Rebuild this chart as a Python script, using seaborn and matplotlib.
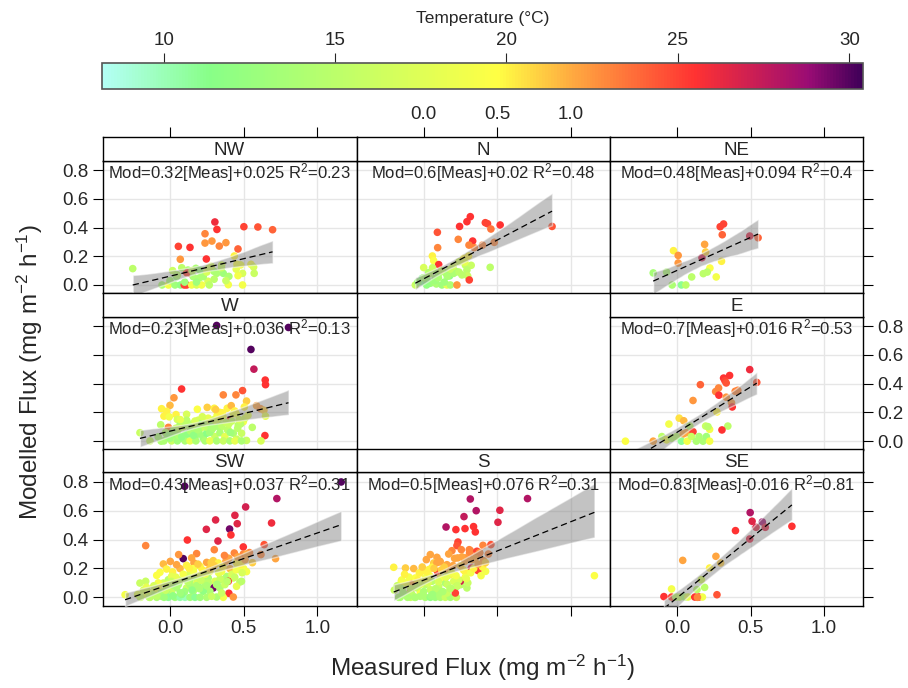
import matplotlib
matplotlib.use("Agg")
import matplotlib.pyplot as plt
import matplotlib.colors as mcolors
import seaborn as sns
import pandas as pd

# ---- data ----
sectors = ["NW", "N", "NE", "W", "E", "SW", "S", "SE"]

NW_meas = [-0.253, 0.018, 0.305, 0.319, 0.502, 0.597, 0.697, 0.238, 0.285, 0.238, 0.335, 0.380, 0.057, 0.136,
           0.462, 0.070, 0.247, 0.437, 0.455, 0.550, 0.568, 0.572, 0.493, 0.462, 0.396, 0.493, 0.258, 0.122,
           0.176, 0.204, 0.262, 0.299, 0.362, 0.351, 0.113, 0.136, -0.054, -0.011, 0.034, 0.072, 0.097, 0.113,
           0.147, 0.181, 0.215, 0.267, 0.045, 0.158, 0.226, 0.317,
           0.00, 0.05, 0.10, 0.15, 0.20, 0.25, 0.30, 0.35, 0.40, 0.45, 0.08, 0.18, 0.28, 0.38, 0.48]
NW_mod = [0.114, 0.100, 0.439, 0.387, 0.406, 0.404, 0.385, 0.357, 0.306, 0.292, 0.271, 0.295, 0.269, 0.262,
          0.251, 0.179, 0.181, 0.202, 0.144, 0.144, 0.125, 0.081, 0.081, 0.065, 0.002, 0.0, 0.026, 0.104,
          0.116, 0.104, 0.116, 0.095, 0.081, 0.139, 0.086, 0.081, 0.0, 0.0, 0.0, 0.0, 0.0, 0.0,
          0.0, 0.0, 0.0, 0.0, 0.058, 0.058, 0.058, 0.081,
          0.03, 0.07, 0.02, 0.10, 0.05, 0.09, 0.04, 0.12, 0.06, 0.11, 0.12, 0.02, 0.13, 0.03, 0.14]
NW_temp = [15, 16, 26, 25.5, 25, 24.5, 24, 23, 22.5, 22.5, 23, 22.5, 25, 25.5,
           24, 22.5, 25.5, 20, 19.5, 19.5, 17, 16, 17, 19, 19, 19, 17, 14,
           14, 13, 16, 14, 13, 17, 25, 25, 14, 19, 13, 12, 25, 25,
           19, 17, 19, 15, 13, 14, 14, 14,
           14, 15, 13, 16, 14, 17, 15, 16, 14, 18, 15, 13, 17, 16, 19]

N_meas = [0.317, 0.294, 0.244, 0.419, 0.434, 0.520, 0.457, 0.873, 0.093, 0.235, 0.333, 0.308, 0.344, 0.400,
          0.480, 0.095, 0.059, 0.068, 0.305, 0.271, 0.102, 0.0, 0.240, 0.283, 0.323, 0.294, 0.452, 0.034,
          0.063, 0.102, 0.147, 0.176, 0.204, 0.222, 0.299, 0.310, -0.011, -0.011, -0.057, 0.045, 0.086, 0.124,
          0.158, 0.181, 0.226, 0.079, 0.023,
          -0.04, 0.00, 0.04, 0.08, 0.12, 0.16, 0.20, 0.24, 0.28, 0.02, 0.10, 0.18, 0.26, 0.06, 0.14]
N_mod = [0.476, 0.441, 0.408, 0.434, 0.427, 0.418, 0.390, 0.408, 0.367, 0.318, 0.306, 0.278, 0.260, 0.278,
         0.297, 0.260, 0.202, 0.169, 0.202, 0.186, 0.142, 0.121, 0.162, 0.139, 0.137, 0.104, 0.123, 0.086,
         0.104, 0.081, 0.086, 0.063, 0.081, 0.093, 0.063, 0.035, 0.046, 0.023, 0.0, 0.012, 0.007, 0.0,
         0.0, 0.0, 0.0, 0.046, 0.035,
         0.02, 0.05, 0.08, 0.03, 0.10, 0.06, 0.13, 0.09, 0.16, 0.00, 0.05, 0.11, 0.07, 0.12, 0.02]
N_temp = [25.5, 25.5, 25.5, 25, 25, 25.5, 23.5, 24.5, 24.5, 23, 25.5, 23, 23, 23,
          23, 23, 20, 19.5, 20, 20, 25.5, 17, 17, 16, 16, 15, 15, 14,
          14, 14, 14, 12, 14, 14, 16, 25, 11, 10.5, 16, 13, 14, 13,
          18, 14, 22.5, 14, 13,
          13, 14, 15, 13, 16, 14, 17, 15, 18, 12, 14, 16, 15, 16, 13]

NE_meas = [-0.163, -0.072, -0.034, 0.029, 0.059, -0.025, 0.007, 0.007, 0.099, 0.169, 0.187, 0.194, 0.223,
           0.178, 0.205, 0.266, 0.302, 0.293, 0.316, 0.307, 0.494, 0.551]
NE_mod = [0.084, 0.090, 0.0, 0.0, 0.0, 0.239, 0.206, 0.153, 0.056, 0.190, 0.283, 0.230, 0.118,
          0.079, 0.090, 0.056, 0.165, 0.406, 0.425, 0.350, 0.341, 0.329]
NE_temp = [13.5, 14, 14, 11, 15, 20, 22.5, 22.5, 15, 27, 22, 21, 19.5,
           15, 15, 19, 20, 25, 25, 24, 26.5, 24]

W_meas = [0.317, 0.805, 0.550, 0.570, 0.647, 0.649, 0.079, 0.493, 0.448, 0.362, 0.027, 0.520, 0.0, -0.057,
          -0.023, -0.041, 0.041, -0.005, 0.113, 0.186, 0.253, 0.301, 0.389, 0.416, 0.505, 0.588, 0.615, 0.638,
          0.649, 0.407, 0.357, 0.335, 0.192, 0.113, 0.050, -0.063, -0.204, -0.136, -0.011, 0.068, 0.136, 0.204,
          0.271, 0.464, 0.559, 0.645, 0.618, -0.023, 0.023, 0.045, 0.079, 0.102, 0.136, 0.170, 0.192, 0.226,
          0.249, 0.283, 0.305, 0.339, 0.373, 0.396, 0.430, 0.452, 0.486, 0.520, -0.041, 0.011, 0.050, 0.102,
          0.136, 0.176, 0.238, 0.271, 0.317, 0.362, 0.407, 0.441, 0.486, 0.063, 0.158, 0.249, 0.351, 0.498,
          0.317,
          -0.08, -0.03, 0.00, 0.03, 0.06, 0.09, 0.12, 0.15, 0.18, 0.21, 0.24, 0.27, 0.30, 0.33, 0.36, 0.39,
          0.42, 0.45, 0.48, 0.51, -0.06, -0.01, 0.04, 0.08, 0.11, 0.14, 0.17, 0.20, 0.23, 0.26, 0.29, 0.32,
          0.35, 0.38, 0.41, 0.44, 0.47, 0.53, 0.02, 0.10, 0.16, 0.22, 0.28, 0.34, 0.40, 0.46, 0.07, 0.19,
          0.31, 0.43]
W_mod = [0.805, 0.791, 0.638, 0.501, 0.425, 0.393, 0.363, 0.352, 0.322, 0.322, 0.302, 0.279, 0.249, 0.226,
         0.208, 0.174, 0.185, 0.169, 0.187, 0.222, 0.235, 0.229, 0.229, 0.247, 0.238, 0.247, 0.226, 0.215,
         0.174, 0.146, 0.197, 0.158, 0.146, 0.146, 0.151, 0.114, 0.059, 0.002, 0.096, 0.112, 0.112, 0.123,
         0.112, 0.112, 0.096, 0.039, 0.002, 0.050, 0.032, 0.066, 0.021, 0.043, 0.066, 0.032, 0.066, 0.021,
         0.055, 0.078, 0.032, 0.059, 0.032, 0.078, 0.055, 0.014, 0.055, 0.005, 0.002, 0.002, 0.002, 0.002,
         0.002, 0.002, 0.002, 0.002, 0.002, 0.002, 0.002, 0.002, 0.002, 0.089, 0.096, 0.096, 0.101, 0.135,
         0.123,
         0.03, 0.06, 0.02, 0.08, 0.04, 0.10, 0.05, 0.12, 0.07, 0.09, 0.13, 0.06, 0.15, 0.10, 0.17, 0.08,
         0.14, 0.19, 0.12, 0.16, 0.00, 0.04, 0.09, 0.03, 0.11, 0.07, 0.14, 0.05, 0.12, 0.16, 0.09, 0.18,
         0.11, 0.13, 0.06, 0.21, 0.15, 0.18, 0.07, 0.13, 0.04, 0.17, 0.10, 0.20, 0.12, 0.09, 0.15, 0.08,
         0.22, 0.19]
W_temp = [30, 30, 30, 27.5, 25.5, 25.5, 25.5, 24.5, 23, 23, 22.5, 21, 21.5, 20,
          20, 20, 20, 19, 17, 19.5, 21, 20, 20, 21.5, 20, 22, 22.5, 21,
          18, 25.5, 20, 17, 17, 15, 17, 15, 16, 16, 23, 14, 14, 14,
          14, 15, 15, 25.5, 17, 14, 13, 14, 12, 13, 16, 11.5, 14, 13,
          11.5, 14, 16, 14, 18, 17, 14, 16, 16, 16, 14, 16, 13, 14,
          18, 14, 14, 18, 14, 16, 14, 18, 14, 16, 18, 15, 15, 19,
          18,
          14, 15, 13, 16, 14, 17, 12, 15, 14, 16, 18, 13, 17, 14, 19, 15,
          16, 19, 15, 17, 14, 13, 16, 12, 15, 14, 17, 13, 15, 18, 14, 19,
          15, 16, 13, 20, 17, 18, 14, 15, 12, 17, 14, 20, 16, 15, 18, 14,
          21, 19]

E_meas = [-0.352, -0.163, -0.104, -0.056, 0.014, 0.045, -0.072, -0.038, -0.005, 0.041, 0.063, 0.086, 0.108,
          0.029, 0.068, 0.097, 0.131, 0.149, 0.176, 0.199, 0.221, 0.194, 0.221, 0.210, 0.345, 0.305, 0.108,
          0.158, 0.282, 0.262, 0.284, 0.334, 0.271, 0.370, 0.375, 0.316, 0.357, 0.325, 0.334, 0.395, 0.413,
          0.494, 0.542]
E_mod = [0.0, 0.0, 0.032, 0.119, 0.160, 0.142, 0.009, 0.021, 0.032, 0.050, 0.059, 0.105, 0.066,
         0.0, 0.0, 0.032, 0.0, 0.032, 0.0, 0.032, 0.0, 0.105, 0.082, 0.101, 0.105, 0.078, 0.283,
         0.393, 0.370, 0.345, 0.320, 0.306, 0.203, 0.267, 0.238, 0.439, 0.457, 0.421, 0.405, 0.347, 0.354,
         0.498, 0.409]
E_temp = [19.5, 22, 15, 19, 20.5, 21.5, 19, 15, 15, 22, 22, 15, 25,
          11, 19, 16, 14, 14, 14, 13, 19, 16, 19, 15, 15, 25.5, 22.5,
          24, 23, 23, 25.5, 22.5, 20, 22.5, 25.5, 25.5, 25.5, 25, 24.5, 23, 23,
          26, 24.5]

SW_meas = [0.100, 1.163, 0.726, 0.514, 0.441, 0.457, 0.310, 0.690, 0.405, 0.247, 0.414, 0.326, 0.118, 0.498,
           0.640, 0.618, 0.717, -0.165, 0.090, 0.301, 0.181, 0.437, 0.498, 0.059, 0.002, -0.045, 0.147, 0.163,
           0.249, 0.294, 0.328, 0.385, 0.113, -0.023, -0.068, 0.018, 0.068, 0.204, 0.452, 0.520, 0.486, 0.407,
           0.271, 0.136, -0.204, -0.165, -0.305, -0.204, -0.158, -0.113, -0.079, -0.045, -0.011, 0.034, 0.068,
           0.102, 0.136, 0.181, 0.226, 0.260, 0.305, 0.351, 0.385, 0.430, 0.475, 0.396, 0.400, 0.430, 0.362,
           0.294, 0.317, 0.271, 0.238, 0.226, 0.192, 0.158, 0.113, 0.079, 0.045, 0.011, -0.023, -0.057, -0.011,
           0.034, 0.068, 0.102, 0.136, 0.170, 0.204, 0.249, 0.283, -0.090, -0.136, 0.339, 0.373, 0.452, 0.486,
           0.351, 0.057, 0.136, 0.181, 0.249, 0.317, 0.011, -0.090, 0.204, 0.158, 0.351, 0.238, 0.045,
           -0.22, -0.18, -0.14, -0.10, -0.06, -0.02, 0.02, 0.06, 0.10, 0.14, 0.18, 0.22, 0.26, 0.30, 0.34,
           0.38, 0.42, 0.46, 0.50, 0.54, -0.20, -0.16, -0.12, -0.08, -0.04, 0.00, 0.04, 0.08, 0.12, 0.16,
           0.20, 0.24, 0.28, 0.32, 0.36, 0.40, 0.44, 0.48, 0.52, 0.56, -0.15, -0.09, -0.03, 0.03, 0.09,
           0.15, 0.21, 0.27, 0.33, 0.39, 0.45, 0.51, -0.11, 0.01, 0.13, 0.25, 0.37, 0.49, 0.07, 0.19]
SW_mod = [0.769, 0.799, 0.684, 0.626, 0.568, 0.510, 0.536, 0.515, 0.473, 0.471, 0.432, 0.390, 0.397, 0.349,
          0.365, 0.296, 0.268, 0.358, 0.268, 0.330, 0.303, 0.307, 0.300, 0.296, 0.249, 0.231, 0.273, 0.238,
          0.242, 0.254, 0.238, 0.273, 0.222, 0.196, 0.173, 0.176, 0.199, 0.215, 0.238, 0.178, 0.208, 0.199,
          0.180, 0.169, 0.099, 0.111, 0.018, 0.005, 0.018, 0.030, 0.065, 0.099, 0.122, 0.134, 0.111,
          0.139, 0.122, 0.134, 0.111, 0.134, 0.111, 0.122, 0.145, 0.134, 0.106, 0.111, 0.028, 0.002, 0.0,
          0.065, 0.002, 0.042, 0.076, 0.042, 0.076, 0.042, 0.065, 0.030, 0.065, 0.030, 0.046, 0.007, 0.0,
          0.0, 0.0, 0.0, 0.0, 0.0, 0.0, 0.0, 0.007, 0.0, 0.0, 0.065, 0.088, 0.076, 0.111,
          0.030, 0.088, 0.088, 0.099, 0.099, 0.088, 0.145, 0.152, 0.152, 0.199, 0.180, 0.180, 0.226,
          0.02, 0.05, 0.00, 0.06, 0.03, 0.09, 0.01, 0.12, 0.04, 0.15, 0.08, 0.19, 0.10, 0.22, 0.13,
          0.25, 0.16, 0.28, 0.20, 0.31, 0.00, 0.07, 0.02, 0.10, 0.00, 0.07, 0.14, 0.02, 0.11, 0.18,
          0.06, 0.16, 0.24, 0.09, 0.21, 0.27, 0.14, 0.23, 0.30, 0.24, 0.04, 0.01, 0.05, 0.08, 0.16,
          0.05, 0.12, 0.20, 0.17, 0.11, 0.19, 0.26, 0.08, 0.11, 0.20, 0.08, 0.29, 0.17, 0.03, 0.23]
SW_temp = [30, 30, 28, 27, 26.5, 26.5, 26.5, 26, 29.5, 26.5, 25.5, 26.5, 25.5, 25.5,
           24.5, 23, 22, 23, 30, 23, 23, 23, 23, 22.5, 22, 21.5, 22, 22,
           22, 21, 20, 22, 20, 20, 19.5, 20, 21.5, 20, 20, 19, 19.5, 21.5,
           19.5, 17, 16, 16, 19, 16, 18.5, 19, 19, 17, 15, 14, 16,
           15, 14, 15, 16, 14, 17, 15, 14, 17, 15, 25.5, 25.5, 22.5, 19,
           29.5, 14, 14, 14, 12, 13, 14, 16, 13, 14, 16, 14, 14, 11,
           13, 10.5, 10, 13, 11, 13, 14, 16, 14, 16, 14, 16, 18, 15,
           16, 14, 14, 17, 15, 15, 18, 19.5, 18, 19.5, 19, 20.5, 22,
           18, 17, 15, 18, 14, 17, 12, 16, 13, 17, 14, 20, 15, 21, 16,
           22, 17, 22, 19, 23, 16, 18, 15, 19, 13, 16, 18, 12, 15, 19,
           14, 18, 21, 14, 20, 22, 16, 20, 22, 21, 17, 15, 16, 14, 19,
           12, 16, 21, 18, 15, 19, 22, 17, 16, 20, 14, 23, 17, 13, 21]

S_meas = [0.317, 0.706, 0.357, 0.518, 0.274, 0.505, 0.152, 0.219, 0.281, 0.339, 0.351, 0.233, 0.226, 0.256,
          0.192, 0.317, 0.362, 0.403, 0.457, 0.380, 0.407, 0.312, 0.283, 0.231, 0.045, 0.090, 0.018, 0.068,
          0.113, 0.158, -0.204, -0.124, -0.068, -0.023, 0.034, 0.057, 0.136, 0.170, 0.095, 0.181, 0.283, 0.283,
          0.324, 0.369, 0.421, 1.161, -0.152, -0.084, -0.147, -0.090, -0.170, -0.113, -0.045, -0.023, 0.011,
          0.045, 0.057, 0.102, 0.113, 0.147, 0.181, 0.204, 0.226, 0.253, 0.294, 0.249, 0.283, -0.023, 0.011,
          0.045, 0.079, 0.113, 0.147, 0.181, 0.222, -0.090, -0.057, 0.090, 0.158, 0.215, 0.023, 0.113, 0.158,
          -0.057,
          -0.20, -0.16, -0.12, -0.08, -0.04, 0.00, 0.04, 0.08, 0.12, 0.16, 0.20, 0.24, 0.28, 0.32, 0.36,
          0.40, 0.44, -0.18, -0.14, -0.10, -0.06, -0.02, 0.02, 0.06, 0.10, 0.14, 0.18, 0.22, 0.26, 0.30,
          0.34, 0.38, 0.42, -0.15, -0.09, -0.03, 0.03, 0.09, 0.15, 0.21, 0.27, 0.33, 0.39, -0.11, -0.05,
          0.01, 0.07, 0.13, 0.19, 0.25, 0.31, 0.37, -0.13, -0.01, 0.11, 0.23, 0.35, 0.05, 0.17, 0.29]
S_mod = [0.681, 0.684, 0.600, 0.603, 0.559, 0.520, 0.487, 0.469, 0.476, 0.490, 0.453, 0.383, 0.358, 0.330,
         0.323, 0.323, 0.319, 0.360, 0.365, 0.307, 0.254, 0.307, 0.273, 0.273, 0.296, 0.277, 0.261, 0.238,
         0.245, 0.226, 0.208, 0.203, 0.199, 0.169, 0.192, 0.208, 0.192, 0.180, 0.176, 0.157, 0.134, 0.176,
         0.203, 0.185, 0.180, 0.150, 0.111, 0.099, 0.060, 0.042, 0.0, 0.018, 0.065, 0.030, 0.088,
         0.053, 0.111, 0.076, 0.042, 0.099, 0.065, 0.111, 0.076, 0.088, 0.065, 0.111, 0.139, 0.007, 0.0,
         0.0, 0.0, 0.0, 0.0, 0.0, 0.0, 0.0, 0.0, 0.030, 0.030, 0.030, 0.145, 0.134, 0.145,
         0.134,
         0.05, 0.00, 0.10, 0.02, 0.12, 0.04, 0.15, 0.06, 0.19, 0.09, 0.22, 0.12, 0.25, 0.17, 0.29,
         0.21, 0.30, 0.08, 0.03, 0.14, 0.00, 0.09, 0.18, 0.02, 0.11, 0.21, 0.06, 0.15, 0.28, 0.10,
         0.20, 0.31, 0.24, 0.12, 0.06, 0.17, 0.10, 0.24, 0.14, 0.27, 0.19, 0.26, 0.15, 0.00, 0.07,
         0.13, 0.20, 0.04, 0.17, 0.22, 0.33, 0.23, 0.16, 0.21, 0.25, 0.08, 0.27, 0.01, 0.30, 0.13]
S_temp = [28, 28, 28, 26.5, 27.5, 26.5, 28, 25.5, 25.5, 25.5, 25.5, 25, 24.5, 23,
          23, 24, 25, 23, 24.5, 23, 22.5, 23, 22.5, 22, 22, 22, 22, 21,
          21.5, 22, 20, 21, 21.5, 20, 20, 20, 19.5, 22, 25, 20, 22, 20,
          26.5, 25, 19, 19.5, 19, 22, 15, 25, 14, 16, 15, 19, 15,
          16, 15, 16, 15, 14, 15, 17, 14, 15, 15, 27, 19, 14, 14,
          12, 13, 14, 16, 14, 16, 16, 14, 14, 16, 25, 19, 19.5, 17,
          19.5,
          16, 14, 19, 15, 20, 14, 19, 15, 21, 16, 22, 17, 22, 19, 23,
          20, 23, 16, 14, 19, 14, 17, 20, 13, 17, 21, 15, 19, 22, 16,
          20, 23, 21, 19, 16, 20, 17, 22, 18, 22, 20, 22, 19, 14, 16,
          19, 21, 14, 19, 21, 23, 22, 20, 21, 22, 16, 22, 13, 22, 18]

SE_meas = [0.497, 0.510, 0.580, 0.537, 0.600, 0.781, 0.397, 0.494, 0.038, 0.264, 0.296, 0.221, 0.165, 0.187,
           0.135, -0.038, 0.271, -0.090, -0.038, -0.009, 0.018, 0.052, 0.074, 0.120, 0.149, 0.172, 0.138]
SE_mod = [0.587, 0.527, 0.522, 0.485, 0.485, 0.492, 0.462, 0.404, 0.256, 0.284, 0.238, 0.203, 0.122, 0.069,
          0.053, 0.058, 0.018, 0.005, 0.002, 0.002, 0.002, 0.002, 0.002, 0.002, 0.002, 0.002, 0.0]
SE_temp = [28, 26.5, 28.5, 26.5, 26.5, 25.5, 25.5, 26.5, 22, 22, 21, 20, 17, 15,
           15, 19, 24.5, 25.5, 25, 15, 16, 14, 18, 25.5, 25.5, 19, 23]

# fitted-model text shown in each panel
fit_slope = [0.32, 0.6, 0.48, 0.23, 0.7, 0.43, 0.5, 0.83]
fit_icept = [0.025, 0.02, 0.094, 0.036, 0.016, 0.037, 0.076, -0.016]
fit_r2 = [0.23, 0.48, 0.4, 0.13, 0.53, 0.31, 0.31, 0.81]

x_ticks = [0.0, 0.5, 1.0]
y_ticks = [0.0, 0.2, 0.4, 0.6, 0.8]
cbar_ticks = [10, 15, 20, 25, 30]
temp_range = (8.2, 30.4)

frames = []
for name, m, p, t in [("NW", NW_meas, NW_mod, NW_temp), ("N", N_meas, N_mod, N_temp),
                      ("NE", NE_meas, NE_mod, NE_temp), ("W", W_meas, W_mod, W_temp),
                      ("E", E_meas, E_mod, E_temp), ("SW", SW_meas, SW_mod, SW_temp),
                      ("S", S_meas, S_mod, S_temp), ("SE", SE_meas, SE_mod, SE_temp)]:
    frames.append(pd.DataFrame({"sector": name, "meas": m, "mod": p, "temp": t}))
df = pd.concat(frames, ignore_index=True)

# ---- style ----
sns.set_style("white")
plt.rcParams["font.family"] = ["Liberation Sans", "DejaVu Sans"]
plt.rcParams["mathtext.default"] = "regular"

cmap = mcolors.LinearSegmentedColormap.from_list(
    "temp",
    [(0.0, "#b3fff5"), (0.14, "#88ff88"), (0.52, "#ffff44"), (0.62, "#ffa840"),
     (0.78, "#ff3232"), (0.93, "#9a0c74"), (1.0, "#3f0058")])
norm = mcolors.Normalize(*temp_range)

W, H = 908, 688
fig = plt.figure(figsize=(W / 100, H / 100), dpi=100)

col_edges = [(102.7, 356.5), (356.5, 610.0), (610.0, 863.3)]
row_edges = [(137.0, 160.7, 293.3), (293.3, 316.7, 449.5), (449.5, 472.3, 605.7)]
grid_pos = {"NW": (0, 0), "N": (0, 1), "NE": (0, 2), "W": (1, 0), "E": (1, 2),
            "SW": (2, 0), "S": (2, 1), "SE": (2, 2)}
xlim = (-0.457, 1.267)
ylim = (-0.058, 0.866)

for i, name in enumerate(sectors):
    r, c = grid_pos[name]
    x0, x1 = col_edges[c]
    s_top, p_top, p_bot = row_edges[r]
    ax = fig.add_axes([x0 / W, 1 - p_bot / H, (x1 - x0) / W, (p_bot - p_top) / H])
    sax = fig.add_axes([x0 / W, 1 - p_top / H, (x1 - x0) / W, (p_top - s_top) / H])

    d = df[df["sector"] == name]
    sns.scatterplot(data=d, x="meas", y="mod", hue="temp", palette=cmap, hue_norm=norm,
                    s=30, linewidth=0, legend=False, ax=ax, zorder=2)
    sns.regplot(data=d, x="meas", y="mod", scatter=False, ci=95, seed=1, ax=ax,
                line_kws=dict(color="black", lw=0.9, ls=(0, (5, 3)), zorder=4))
    band = ax.collections[-1]
    band.set_facecolor("#888888")
    band.set_alpha(0.5)
    band.set_zorder(3)

    ax.set_xlim(*xlim)
    ax.set_ylim(*ylim)
    ax.set_xticks(x_ticks)
    ax.set_yticks(y_ticks)
    ax.xaxis.set_major_formatter(lambda v, p: f"{v:.1f}")
    ax.yaxis.set_major_formatter(lambda v, p: f"{v:.1f}")
    ax.grid(True, color="#e6e6e6", lw=1)
    ax.set_axisbelow(True)
    ax.set_xlabel("")
    ax.set_ylabel("")
    for sp in ax.spines.values():
        sp.set_color("black")
        sp.set_linewidth(1)

    ax.tick_params(direction="out", length=7, width=0.8, color="black", labelsize=13.5,
                   bottom=(r == 2), labelbottom=(r == 2 and c != 1),
                   top=False, labeltop=False,
                   left=(c == 0), labelleft=(c == 0 and r != 1),
                   right=(c == 2), labelright=(c == 2 and r == 1), pad=3)

    txt = f"Mod={fit_slope[i]:g}[Meas]{fit_icept[i]:+g} R$^2$={fit_r2[i]:g}"
    ax.text(0.5, 0.995, txt, transform=ax.transAxes, ha="center", va="top",
            fontsize=12, zorder=6)

    # strip
    sax.set_xlim(*xlim)
    sax.set_xticks(x_ticks)
    sax.xaxis.set_major_formatter(lambda v, p: f"{v:.1f}")
    sax.set_yticks([])
    sax.set_facecolor("white")
    for sp in sax.spines.values():
        sp.set_color("black")
        sp.set_linewidth(1)
    sax.tick_params(direction="out", length=7, width=0.8, color="black", labelsize=13.5,
                    bottom=False, labelbottom=False,
                    top=(r == 0), labeltop=(r == 0 and c == 1), pad=3)
    sax.text(0.5, 0.45, name, transform=sax.transAxes, ha="center", va="center", fontsize=13.5)

# colour key
cax = fig.add_axes([102 / W, 1 - 89.2 / H, (863 - 102) / W, (89.2 - 62.5) / H])
sm = plt.cm.ScalarMappable(norm=norm, cmap=cmap)
cb = fig.colorbar(sm, cax=cax, orientation="horizontal", ticks=cbar_ticks)
cb.outline.set_edgecolor("#555555")
cb.outline.set_linewidth(1.2)
cax.xaxis.set_ticks_position("top")
cax.xaxis.set_label_position("top")
cax.tick_params(direction="out", length=7, width=0.8, labelsize=13.5, pad=3)
fig.text(483 / W, 1 - 19 / H, "Temperature (°C)", ha="center", va="center", fontsize=12.5)

fig.text(483 / W, 1 - 668 / H, r"Measured Flux (mg m$^{-2}$ h$^{-1}$)",
         ha="center", va="center", fontsize=17.5)
fig.text(30 / W, 1 - 372 / H, r"Modelled Flux (mg m$^{-2}$ h$^{-1}$)",
         ha="center", va="center", rotation=90, fontsize=17.5)

fig.savefig("out.png", dpi=100, facecolor="white")
